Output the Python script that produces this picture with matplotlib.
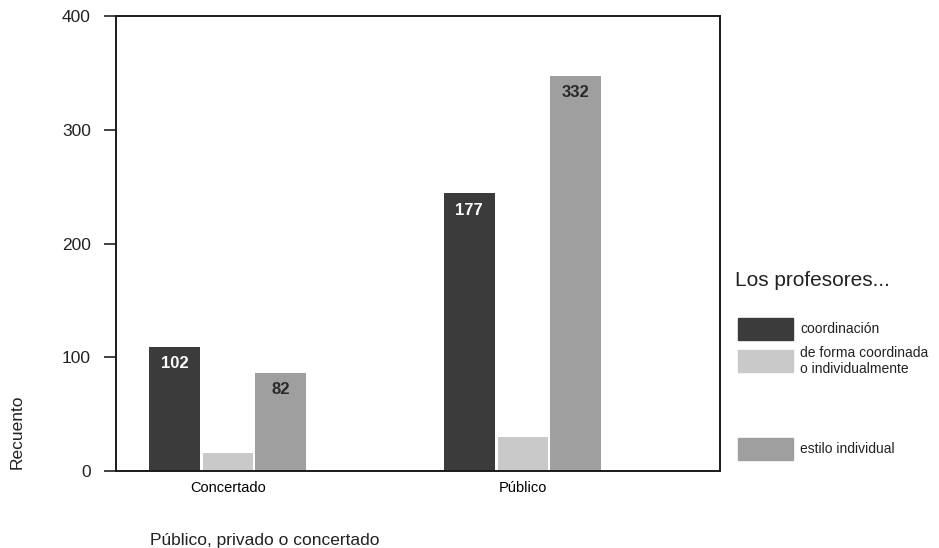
import numpy as np
import matplotlib.pyplot as plt
from matplotlib.patches import Rectangle

plt.rcParams['font.family'] = ['Liberation Sans', 'DejaVu Sans']

categories = ['Concertado', 'Público']
series = ['coordinación', 'de forma coordinada\no individualmente', 'estilo individual']
# bar heights as drawn in the scan (on the axis scale)
heights = [
    [109, 244],   # coordinación
    [16, 30],     # de forma coordinada o individualmente
    [86, 347],    # estilo individual
]
# printed counts inside the bars
bar_labels = [['102', '177'], ['', ''], ['82', '332']]
colors = ['#3b3b3b', '#c9c9c9', '#9f9f9f']
label_colors = ['white', 'black', '#2a2a2a']

fig = plt.figure(figsize=(9.39, 5.48), dpi=100)
ax = fig.add_axes([116/939, 1 - 471/548, 604/939, 455/548])

x = np.arange(len(categories))
w = 0.172
offsets = [-0.182, 0.0, 0.177]
for i in range(len(series)):
    bars = ax.bar(x + offsets[i], heights[i], width=w, color=colors[i], edgecolor='none')
    for b, lab in zip(bars, bar_labels[i]):
        if lab:
            ax.text(b.get_x() + b.get_width()/2, b.get_height() - 8, lab,
                    ha='center', va='top', fontsize=12, fontweight='bold',
                    color=label_colors[i])

ax.set_xlim(-0.38, 1.668)
ax.set_ylim(0, 400)
ax.set_yticks([0, 100, 200, 300, 400])
ax.set_xticks(x)
ax.set_xticklabels(categories, fontsize=10.5)
ax.tick_params(axis='y', direction='out', length=9, width=1.2, labelsize=12.5, pad=9, colors='#222222')
ax.tick_params(axis='x', length=0, pad=7)
for s in ax.spines.values():
    s.set_linewidth(1.4)
    s.set_color('#1a1a1a')

fig.text(17/939, 1 - 432/548, 'Recuento', rotation=90, ha='center', va='center', fontsize=12.5, color='#222222')
fig.text(150/939, 1 - 540/548, 'Público, privado o concertado', ha='left', va='center', fontsize=12.5, color='#222222')

# legend
fig.text(735/939, 1 - 281/548, 'Los profesores...', ha='left', va='center', fontsize=15, color='#222222')
legend_y = [329, 361, 449]
for c, lab, yy in zip(colors, series, legend_y):
    fig.patches.append(Rectangle((738/939, 1 - (yy + 11)/548), 55/939, 22/548,
                                 transform=fig.transFigure, color=c))
    fig.text(800/939, 1 - yy/548, lab, ha='left', va='center', fontsize=10,
             color='#222222', linespacing=1.1)

fig.savefig('out.png', dpi=100)
